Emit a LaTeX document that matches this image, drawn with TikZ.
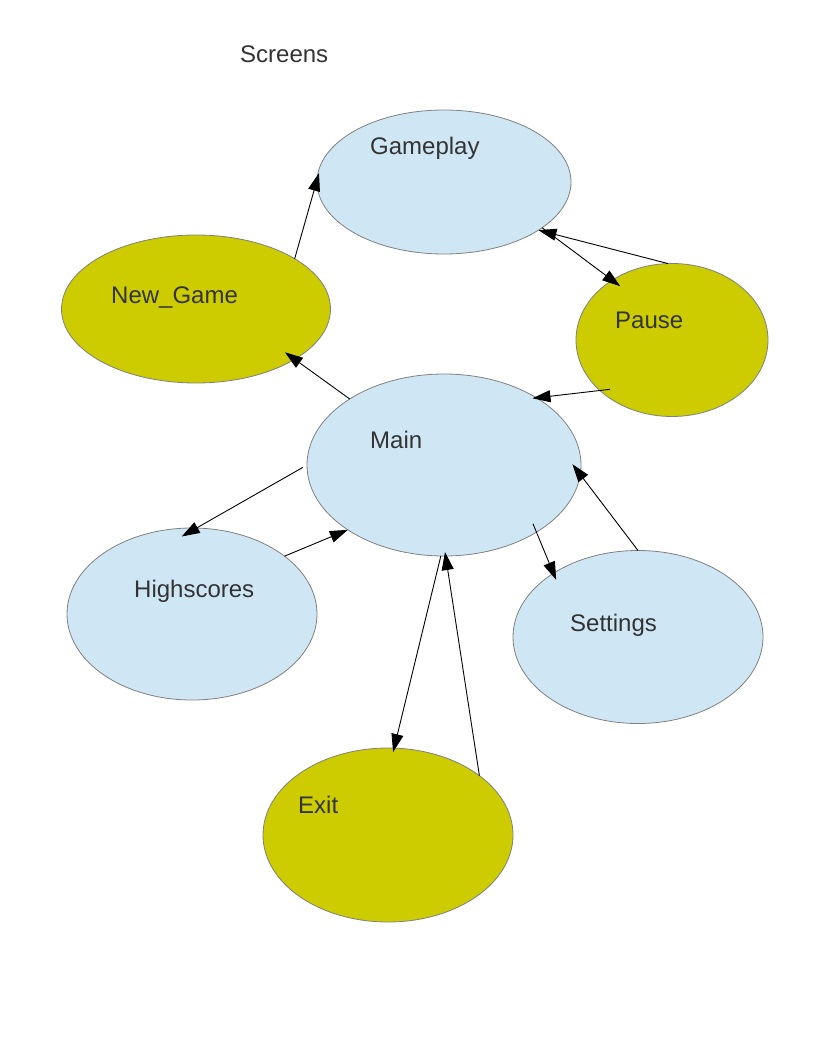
\documentclass[tikz,border=0pt]{standalone}
\usepackage{fontspec}
\setmainfont{Liberation Sans}
\usetikzlibrary{arrows.meta,
                shapes.geometric}
\definecolor{screenblue}{HTML}{CFE7F5}
\definecolor{actionolive}{HTML}{CCCC00}
\definecolor{textgray}{HTML}{333333}
\definecolor{rimgray}{HTML}{808080}
\tikzset{
       arr/.style = {-{Triangle[length=18pt,width=12pt]}, line width=0.9pt},
      base/.style = {draw=rimgray, line width=0.8pt, ellipse,
                     inner sep=0pt, outer sep=0pt},
    screen/.style = {base, fill=screenblue},
    action/.style = {base, fill=actionolive},
   caption/.style = {anchor=base west, inner sep=0pt, text=textgray,
                     font=\fontsize{24}{28}\selectfont},
        }

\begin{document}
\begin{tikzpicture}[x=1pt,y=-1pt]
  \useasboundingbox (0,0) rectangle (816,1056);
  % screens
  \node[screen, minimum width=254pt, minimum height=144pt] (gameplay)   at (444,182) {};
  \node[action, minimum width=269pt, minimum height=148pt] (newgame)    at (196,309) {};
  \node[action, minimum width=192pt, minimum height=153pt] (pause)      at (672,340) {};
  \node[screen, minimum width=274pt, minimum height=182pt] (main)       at (444,465) {};
  \node[screen, minimum width=250pt, minimum height=172pt] (highscores) at (192,614) {};
  \node[screen, minimum width=250pt, minimum height=173pt] (settings)   at (638,637) {};
  \node[action, minimum width=250pt, minimum height=174pt] (exit)       at (388,835) {};
  % texts
  \node[caption] (title)        at (240,63)  {Screens};
  \node[caption] (gameplay-t)   at (370,155) {Gameplay};
  \node[caption] (newgame-t)    at (111,303) {New\_Game};
  \node[caption] (pause-t)      at (615,328) {Pause};
  \node[caption] (main-t)       at (370,448) {Main};
  \node[caption] (highscores-t) at (134,597) {Highscores};
  \node[caption] (settings-t)   at (570,631) {Settings};
  \node[caption] (exit-t)       at (298,813) {Exit};
  % transitions
  \draw[arr, shorten >=-7pt]  (newgame.27)  -- (gameplay.179);
  \draw[arr]                  (pause.93)    -- (gameplay.-27);
  \draw[arr, shorten >=-10pt] (gameplay.-25) -- (pause.135);
  \draw[arr, shorten >=-12pt] (main.145)    -- (newgame.-27);
  \draw[arr, shorten <=-10pt, shorten >=-4pt] (pause.215) -- (main.36);
  \draw[arr, shorten <=5pt, shorten >=-17pt]  (main.180)  -- (highscores.87);
  \draw[arr]                  (highscores.32) -- (main.214);
  \draw[arr, shorten <=-9pt, shorten >=-7pt]  (main.-36)  -- (settings.143);
  \draw[arr, shorten >=-13pt] (settings.90) -- (main.-4);
  \draw[arr, shorten >=-4pt]  (main.-92)    -- (exit.86);
  \draw[arr, shorten >=-4pt]  (exit.33)     -- (main.-89);
\end{tikzpicture}
\end{document}
